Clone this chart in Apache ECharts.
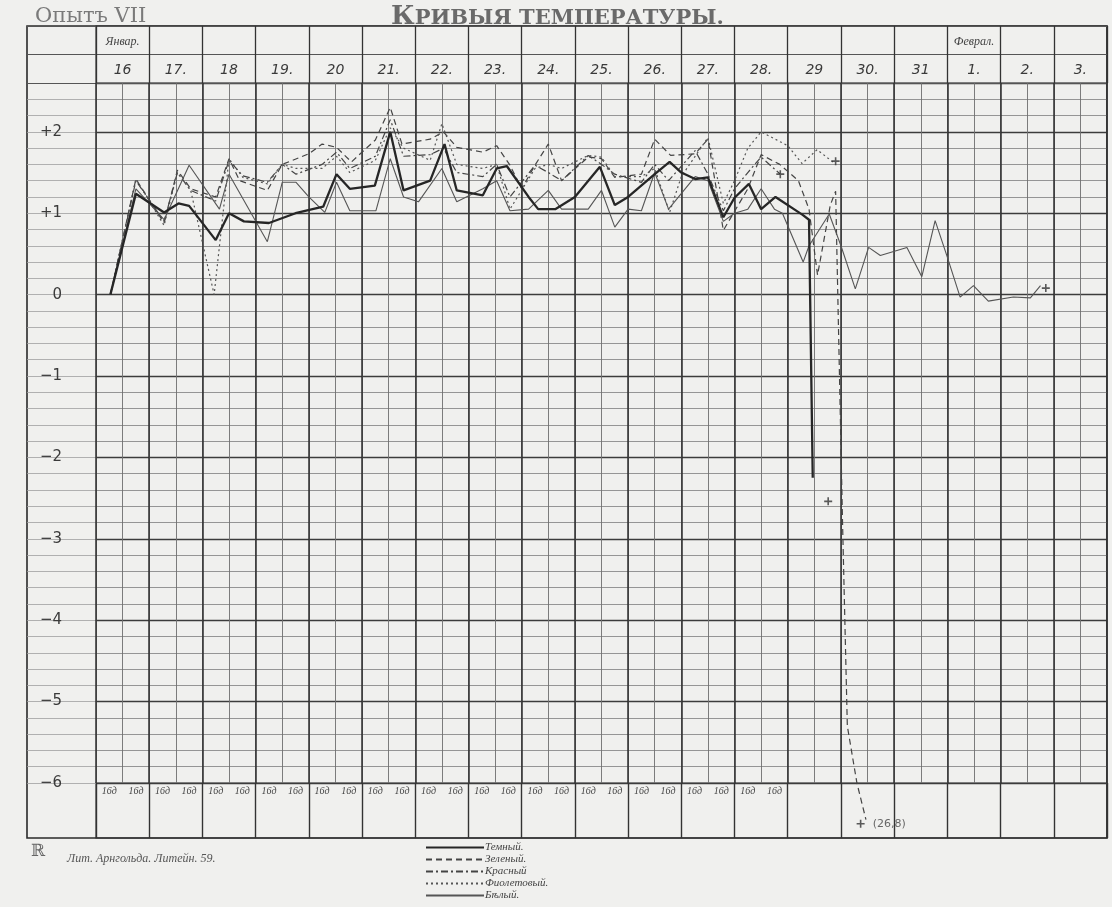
<!DOCTYPE html>
<html>
<head>
<meta charset="utf-8">
<script src="https://cdn.jsdelivr.net/npm/echarts@6/dist/echarts.min.js"></script>
<style>
html,body{margin:0;padding:0;background:#f0f0ee;}
#c{width:1112px;height:907px;}
</style>
</head>
<body>
<div id="c"></div>
<script>
// Day columns (header), half-day observation labels, month labels
const dayLabels = ['16','17.','18','19.','20','21.','22.','23.','24.','25.','26.','27.','28.','29','30.','31','1.','2.','3.'];
const monthLabels = ['Январ.','','','','','','','','','','','','','','','','Феврал.','',''];
const halfDayLabels = ['16д','16д','16д','16д','16д','16д','16д','16д','16д','16д','16д','16д','16д','16д','16д','16д','16д','16д','16д','16д','16д','16д','16д','16д','16д','16д','','','','','','','','','','','',''];
const yTickLabels = {'2':'+2','1':'+1','0':'0','-1':'−1','-2':'−2','-3':'−3','-4':'−4','-5':'−5','-6':'−6'};
const seriesNames = ['Темный.','Зеленый.','Красный','Фиолетовый.','Бѣлый.'];

// [time in days from 16 Jan, temperature]
const tempDark = [[0.27,0],[0.75,1.24],[1.28,1.01],[1.55,1.12],[1.75,1.09],[2.25,0.67],[2.5,1.0],[2.78,0.9],[3.25,0.88],[3.75,1.0],[4.27,1.08],[4.52,1.48],[4.77,1.3],[5.24,1.34],[5.53,2.0],[5.78,1.28],[6.28,1.4],[6.55,1.85],[6.78,1.28],[7.27,1.22],[7.53,1.55],[7.72,1.58],[8.13,1.2],[8.31,1.05],[8.63,1.05],[9.0,1.2],[9.47,1.57],[9.75,1.1],[10.0,1.2],[10.5,1.48],[10.78,1.63],[11.0,1.5],[11.26,1.42],[11.5,1.44],[11.79,0.95],[12.0,1.19],[12.27,1.36],[12.5,1.05],[12.77,1.2],[13.28,0.98],[13.4,0.92],[13.47,-2.25]];
const tempGreen = [[0.27,0],[0.75,1.42],[1.28,0.88],[1.53,1.53],[1.78,1.3],[2.25,1.2],[2.5,1.67],[2.7,1.4],[3.22,1.28],[3.5,1.6],[4.0,1.73],[4.25,1.85],[4.52,1.81],[4.8,1.63],[5.25,1.9],[5.53,2.3],[5.75,1.85],[6.28,1.91],[6.53,2.0],[6.78,1.81],[7.27,1.75],[7.53,1.83],[7.78,1.59],[8.0,1.3],[8.25,1.59],[8.5,1.85],[8.75,1.4],[9.25,1.69],[9.5,1.67],[9.75,1.44],[10.25,1.48],[10.5,1.91],[10.8,1.71],[11.26,1.73],[11.5,1.91],[11.79,0.79],[12.25,1.3],[12.5,1.72],[12.85,1.6],[13.2,1.4],[13.4,1.05],[13.56,0.24],[13.8,1.1],[13.9,1.27],[14.03,-2.8],[14.12,-5.3],[14.3,-6.0],[14.47,-6.45]];
const tempRed = [[0.27,0],[0.75,1.4],[1.28,0.9],[1.53,1.5],[1.78,1.28],[2.25,1.15],[2.5,1.65],[2.76,1.46],[3.22,1.38],[3.5,1.6],[3.76,1.48],[4.25,1.6],[4.52,1.75],[4.77,1.55],[5.25,1.7],[5.53,2.15],[5.78,1.7],[6.28,1.72],[6.53,1.8],[6.78,1.5],[7.27,1.45],[7.53,1.6],[7.78,1.2],[8.25,1.59],[8.5,1.5],[8.75,1.4],[9.25,1.71],[9.5,1.6],[9.75,1.48],[10.25,1.38],[10.5,1.6],[10.76,1.4],[11.26,1.77],[11.5,1.48],[11.79,1.03],[12.0,1.3],[12.25,1.5],[12.5,1.69],[12.86,1.48]];
const tempViolet = [[0.27,0],[0.75,1.42],[1.28,0.85],[1.53,1.5],[1.78,1.28],[2.22,0.0],[2.5,1.67],[2.76,1.44],[3.22,1.36],[3.5,1.6],[3.76,1.55],[4.25,1.55],[4.52,1.7],[4.77,1.5],[5.25,1.65],[5.53,2.05],[5.78,1.8],[6.28,1.65],[6.5,2.1],[6.78,1.6],[7.27,1.55],[7.53,1.6],[7.78,1.05],[8.25,1.55],[8.5,1.6],[8.75,1.55],[9.25,1.71],[9.5,1.69],[9.75,1.45],[10.25,1.45],[10.5,1.55],[10.78,1.01],[11.0,1.45],[11.5,1.93],[11.79,1.12],[12.0,1.4],[12.25,1.8],[12.5,2.0],[13.0,1.83],[13.27,1.61],[13.55,1.78],[13.85,1.63]];
const tempWhite = [[0.27,0],[0.75,1.3],[1.28,0.92],[1.75,1.59],[2.32,1.05],[2.5,1.48],[3.22,0.65],[3.5,1.38],[3.76,1.38],[4.0,1.2],[4.3,1.01],[4.52,1.38],[4.77,1.03],[5.26,1.03],[5.53,1.67],[5.78,1.2],[6.06,1.14],[6.5,1.55],[6.78,1.14],[7.27,1.3],[7.53,1.4],[7.78,1.03],[8.13,1.05],[8.5,1.28],[8.75,1.05],[9.25,1.05],[9.5,1.28],[9.75,0.83],[10.0,1.05],[10.25,1.03],[10.5,1.5],[10.76,1.05],[11.26,1.45],[11.5,1.4],[11.79,0.9],[12.0,1.0],[12.25,1.05],[12.5,1.3],[12.75,1.05],[12.9,1.0],[13.29,0.4],[13.4,0.6],[13.78,0.99],[14.0,0.6],[14.27,0.07],[14.52,0.58],[14.74,0.48],[15.24,0.58],[15.52,0.22],[15.77,0.91],[15.99,0.48],[16.24,-0.03],[16.49,0.11],[16.77,-0.08],[17.24,-0.03],[17.56,-0.04],[17.75,0.11]];
const endMarks = [[13.76,-2.54],[14.37,-6.5],[13.9,1.64],[12.86,1.48],[17.85,0.08]];
const endNote = '(26,8)';

const chart = echarts.init(document.getElementById('c'));
const ink = '#3a3a3a';
const hid = {show:false};
const hiddenX = (g)=>({type:'value',gridIndex:g,min:0,max:1,show:false});
const hiddenY = (g)=>({type:'value',gridIndex:g,min:0,max:1,show:false});

const plusPath = 'path://M4,0H6V4H10V6H6V10H4V6H0V4H4Z';

chart.setOption({
  animation:false,
  backgroundColor:'#f0f0ee',
  title:[
    {text:'Опытъ VII',left:30,top:1,textStyle:{fontFamily:'DejaVu Serif',fontSize:21,fontWeight:'normal',color:'#7a7a7a'}},
    {text:'{a|К}{b|РИВЫЯ ТЕМПЕРАТУРЫ.}',left:386,top:-1,textStyle:{rich:{
      a:{fontFamily:'DejaVu Serif',fontSize:26,color:'#6a6a6a'},
      b:{fontFamily:'DejaVu Serif',fontSize:21,color:'#6a6a6a',padding:[3,0,0,0]}}}},
    {text:'ℝ',left:26,top:838,textStyle:{fontFamily:'DejaVu Serif',fontSize:17,fontWeight:'normal',color:'#666'}},
    {text:'Лит. Арнгольда. Литейн. 59.',left:62,top:848,textStyle:{fontFamily:'Liberation Serif',fontStyle:'italic',fontSize:12,fontWeight:'normal',color:'#555'}}
  ],
  legend:{
    data:seriesNames, orient:'vertical', left:425, top:842, padding:0,
    itemWidth:58, itemHeight:6, itemGap:1,
    itemStyle:{opacity:0},
    textStyle:{fontFamily:'Liberation Serif',fontStyle:'italic',fontSize:11,lineHeight:11,color:'#444',padding:[0,0,0,-4]}
  },
  grid:[
    {left:96,top:83,width:1011,height:700,show:false},
    {left:27,top:83,width:69,height:700,show:false},
    {left:27,top:26,width:1080,height:57,show:false},
    {left:96,top:26,width:1011,height:57,show:true,borderColor:ink,borderWidth:1.2,backgroundColor:'transparent'},
    {left:96,top:783,width:1011,height:55,show:true,borderColor:ink,borderWidth:1.2,backgroundColor:'transparent'},
    {left:27,top:26,width:1080,height:812,show:true,borderColor:'#2a2a2a',borderWidth:1.6,backgroundColor:'transparent'}
  ],
  xAxis:[
    {type:'value',gridIndex:0,min:0,max:19,interval:0.5,position:'bottom',axisLabel:hid,axisTick:hid,axisLine:hid,
      splitLine:{show:true,lineStyle:{color:'#6e6e6e',width:0.9}}},
    {type:'value',gridIndex:0,min:0,max:19,interval:1,position:'bottom',axisLabel:hid,axisTick:hid,axisLine:hid,
      splitLine:{show:true,lineStyle:{color:'#2e2e2e',width:1.5}}},
    hiddenX(1),
    hiddenX(2),
    {type:'value',gridIndex:3,min:0,max:19,interval:1,position:'bottom',axisLabel:hid,axisTick:hid,axisLine:hid,
      splitLine:{show:true,lineStyle:{color:'#333',width:1.3}}},
    {type:'category',gridIndex:3,data:dayLabels,boundaryGap:true,position:'bottom',axisLine:hid,axisTick:hid,splitLine:hid,
      axisLabel:{inside:true,interval:0,margin:6,fontFamily:'DejaVu Sans',fontStyle:'italic',fontSize:14,color:'#3a3a3a'}},
    {type:'category',gridIndex:3,data:monthLabels,boundaryGap:true,position:'top',axisLine:hid,axisTick:hid,splitLine:hid,
      axisLabel:{inside:true,interval:0,margin:10,fontFamily:'Liberation Serif',fontStyle:'italic',fontSize:12,color:'#444'}},
    {type:'value',gridIndex:4,min:0,max:19,interval:1,position:'bottom',axisLabel:hid,axisTick:hid,axisLine:hid,
      splitLine:{show:true,lineStyle:{color:'#333',width:1.4}}},
    {type:'category',gridIndex:4,data:halfDayLabels,boundaryGap:true,position:'top',axisLine:hid,axisTick:hid,splitLine:hid,
      axisLabel:{inside:true,interval:0,margin:3,fontFamily:'Liberation Serif',fontStyle:'italic',fontSize:10,color:'#444'}},
    hiddenX(5)
  ],
  yAxis:[
    {type:'value',gridIndex:0,min:-6,max:2.6,interval:0.2,position:'left',axisLabel:hid,axisTick:hid,axisLine:hid,
      splitLine:{show:true,lineStyle:{color:'#8a8a8a',width:0.9}}},
    {type:'value',gridIndex:0,min:-6,max:2.6,interval:1,position:'left',axisTick:hid,axisLine:hid,
      splitLine:{show:true,lineStyle:{color:'#3c3c3c',width:1.3}},
      axisLabel:{margin:34,fontFamily:'DejaVu Sans',fontSize:15,color:'#3a3a3a',
        formatter:(v)=>{const r=Math.round(v);return Math.abs(v-r)<1e-6 && yTickLabels[String(r)]!==undefined ? yTickLabels[String(r)] : '';}}},
    {type:'value',gridIndex:1,min:-6,max:2.6,interval:0.2,axisLabel:hid,axisTick:hid,axisLine:hid,
      splitLine:{show:true,lineStyle:{color:'#a0a0a0',width:0.8}}},
    {type:'value',gridIndex:2,min:0,max:2,interval:1,axisLabel:hid,axisTick:hid,axisLine:hid,
      splitLine:{show:true,lineStyle:{color:'#555',width:1}}},
    hiddenY(3),
    hiddenY(4),
    hiddenY(5)
  ],
  series:[
    {name:seriesNames[0],type:'line',xAxisIndex:0,yAxisIndex:1,data:tempDark,symbol:'none',clip:false,z:5,
      itemStyle:{color:'#262626'},lineStyle:{color:'#262626',width:2.3}},
    {name:seriesNames[1],type:'line',xAxisIndex:0,yAxisIndex:1,data:tempGreen,symbol:'none',clip:false,z:4,
      itemStyle:{color:'#444'},lineStyle:{color:'#444',width:1.2,type:[6,4]}},
    {name:seriesNames[2],type:'line',xAxisIndex:0,yAxisIndex:1,data:tempRed,symbol:'none',clip:false,z:4,
      itemStyle:{color:'#444'},lineStyle:{color:'#444',width:1.2,type:[7,3,2,3]}},
    {name:seriesNames[3],type:'line',xAxisIndex:0,yAxisIndex:1,data:tempViolet,symbol:'none',clip:false,z:4,
      itemStyle:{color:'#555'},lineStyle:{color:'#555',width:1.2,type:[2,3]}},
    {name:seriesNames[4],type:'line',xAxisIndex:0,yAxisIndex:1,data:tempWhite,symbol:'none',clip:false,z:4,
      itemStyle:{color:'#555'},lineStyle:{color:'#555',width:1.1}},
    {name:'ends',type:'scatter',xAxisIndex:0,yAxisIndex:1,clip:false,z:6,symbol:plusPath,symbolSize:8,
      itemStyle:{color:'#333'},
      data:endMarks.map((p,i)=> i===1 ? {value:p,label:{show:true,position:'right',distance:8,formatter:endNote,
        fontFamily:'DejaVu Sans',fontSize:11,color:'#444'}} : {value:p})}
  ]
});
</script>
</body>
</html>
